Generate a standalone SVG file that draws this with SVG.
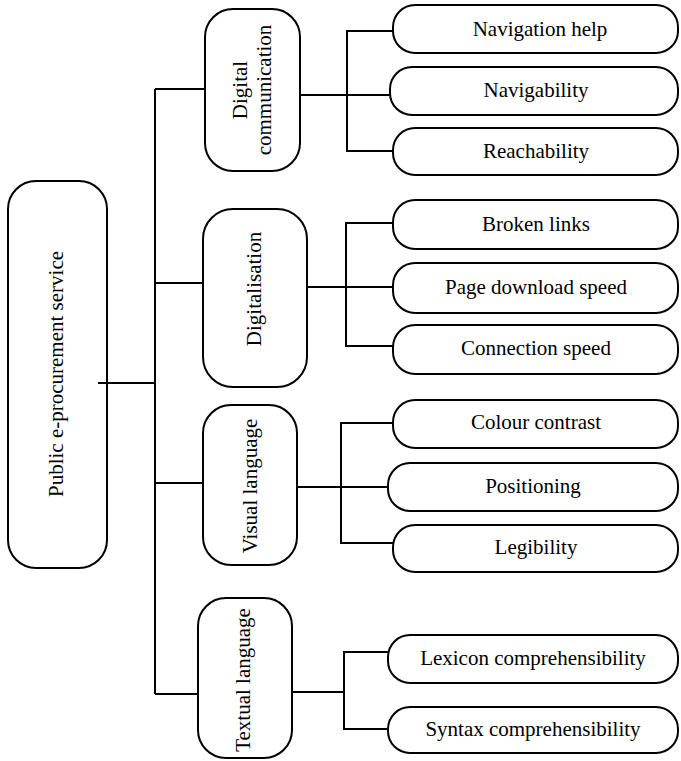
<svg xmlns="http://www.w3.org/2000/svg" width="681" height="761" viewBox="0 0 681 761">
  <style>
    .box { fill: #fff; stroke: #000; stroke-width: 2; }
    .lbl { font-family: "Liberation Serif", "Times New Roman", serif; font-size: 21px; fill: #000; text-anchor: middle; dominant-baseline: central; }
    .con { fill: none; stroke: #000; stroke-width: 2; }
  </style>
  <rect width="681" height="761" fill="#fff"/>

  <!-- root -->
  <g id="root">
    <rect class="box" x="8" y="181" width="99" height="387" rx="28"/>
    <text class="lbl" transform="translate(56 374) rotate(-90)">Public e-procurement service</text>
  </g>

  <!-- categories -->
  <g id="digital-communication">
    <rect class="box" x="205" y="9" width="95" height="162" rx="28"/>
    <text class="lbl" transform="translate(240 90) rotate(-90)">Digital</text>
    <text class="lbl" transform="translate(264 90) rotate(-90)">communication</text>
  </g>
  <g id="digitalisation">
    <rect class="box" x="203" y="209" width="104" height="178" rx="30"/>
    <text class="lbl" transform="translate(254 289) rotate(-90)">Digitalisation</text>
  </g>
  <g id="visual-language">
    <rect class="box" x="203" y="405" width="94" height="160" rx="28"/>
    <text class="lbl" transform="translate(250 486) rotate(-90)">Visual language</text>
  </g>
  <g id="textual-language">
    <rect class="box" x="198" y="598" width="94" height="160" rx="28"/>
    <text class="lbl" transform="translate(243 680) rotate(-90)">Textual language</text>
  </g>

  <!-- leaves -->
  <g id="navigation-help">
    <rect class="box" x="393" y="5" width="285" height="48" rx="22"/>
    <text class="lbl" x="540" y="29">Navigation help</text>
  </g>
  <g id="navigability">
    <rect class="box" x="390" y="67" width="288" height="48" rx="22"/>
    <text class="lbl" x="536" y="90">Navigability</text>
  </g>
  <g id="reachability">
    <rect class="box" x="393" y="128" width="285" height="47" rx="22"/>
    <text class="lbl" x="536" y="151">Reachability</text>
  </g>
  <g id="broken-links">
    <rect class="box" x="393" y="200" width="285" height="49" rx="22"/>
    <text class="lbl" x="536" y="224">Broken links</text>
  </g>
  <g id="page-download-speed">
    <rect class="box" x="393" y="263" width="285" height="50" rx="22"/>
    <text class="lbl" x="536" y="287">Page download speed</text>
  </g>
  <g id="connection-speed">
    <rect class="box" x="393" y="325" width="285" height="49" rx="22"/>
    <text class="lbl" x="536" y="348">Connection speed</text>
  </g>
  <g id="colour-contrast">
    <rect class="box" x="393" y="400" width="285" height="48" rx="22"/>
    <text class="lbl" x="536" y="422">Colour contrast</text>
  </g>
  <g id="positioning">
    <rect class="box" x="388" y="463" width="290" height="48" rx="22"/>
    <text class="lbl" x="533" y="486">Positioning</text>
  </g>
  <g id="legibility">
    <rect class="box" x="393" y="525" width="285" height="47" rx="22"/>
    <text class="lbl" x="536" y="547">Legibility</text>
  </g>
  <g id="lexicon-comprehensibility">
    <rect class="box" x="388" y="635" width="290" height="48" rx="22"/>
    <text class="lbl" x="533" y="658">Lexicon comprehensibility</text>
  </g>
  <g id="syntax-comprehensibility">
    <rect class="box" x="388" y="707" width="290" height="46" rx="22"/>
    <text class="lbl" x="533" y="729">Syntax comprehensibility</text>
  </g>

  <!-- connectors (drawn last; the root stub starts inside the root box) -->
  <g id="connectors" class="con">
    <path d="M98 383H155"/>
    <path d="M155 89V694"/>
    <path d="M155 89H205"/>
    <path d="M155 283H203"/>
    <path d="M155 483H203"/>
    <path d="M155 694H198"/>
    <!-- Digital communication -->
    <path d="M300 95H390"/>
    <path d="M393 31H347V151H393"/>
    <!-- Digitalisation -->
    <path d="M307 287H393"/>
    <path d="M393 223H346V346H393"/>
    <!-- Visual language -->
    <path d="M297 487H388"/>
    <path d="M393 423H341V543H393"/>
    <!-- Textual language -->
    <path d="M292 692H344"/>
    <path d="M388 652H344V729H388"/>
  </g>
</svg>
